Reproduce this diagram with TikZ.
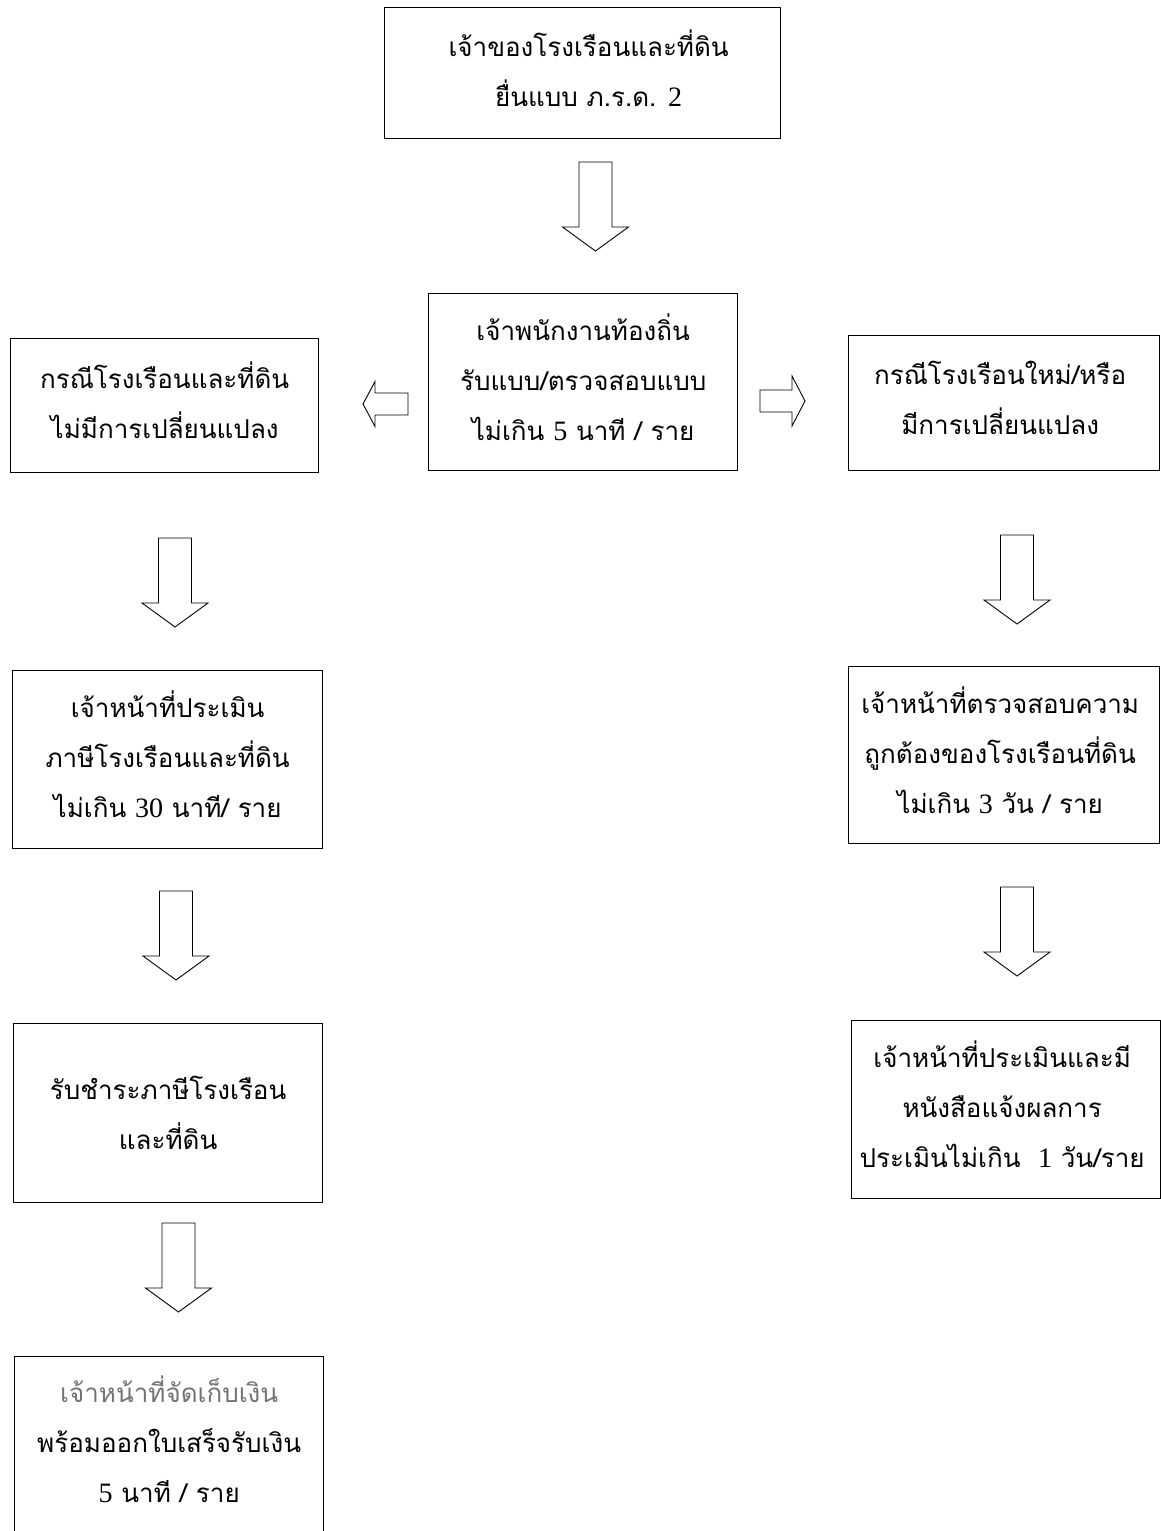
\documentclass[tikz,border=0pt]{standalone}
\usepackage{fontspec}
\setmainfont[Script=Thai]{Loma}
\newfontfamily\lat{Liberation Serif}[Scale=1.08]
\begin{document}
\begin{tikzpicture}[x=1pt,y=-1pt,
  box/.style={draw, line width=1.3pt, anchor=north west, inner sep=0pt},
  txt/.style={inner sep=0pt, align=center, font=\fontsize{26}{50}\selectfont, yshift=5pt},
  arr/.style={draw, line width=0.9pt, line join=miter},
  darr/.pic={\draw[arr] (-16.5,0) -- (16.5,0) -- (16.5,65) -- (33,65) -- (0,89) -- (-33,65) -- (-16.5,65) -- cycle;},
  rarr/.pic={\draw[arr] (0,-11) -- (32,-11) -- (32,-25) -- (45,0) -- (32,25) -- (32,11) -- (0,11) -- cycle;},
  larr/.pic={\draw[arr] (0,-11) -- (-33,-11) -- (-33,-22.5) -- (-45,0) -- (-33,22.5) -- (-33,11) -- (0,11) -- cycle;}
]
\useasboundingbox (0,0) rectangle (1161,1531);

% boxes
\node[box, minimum width=396, minimum height=131] (own) at (384,7) {};
\node[txt] (ownt) at ([xshift=6pt]own.center)
  {เจ้าของโรงเรือนและที่ดิน\\ยื่นแบบ ภ.ร.ด. {\lat 2}};

\node[box, minimum width=309, minimum height=177] (off) at (428,293) {};
\node[txt] (offt) at (off.center)
  {เจ้าพนักงานท้องถิ่น\\รับแบบ/ตรวจสอบแบบ\\ไม่เกิน {\lat 5} นาที / ราย};

\node[box, minimum width=308, minimum height=134] (l1) at (10,338) {};
\node[txt] (l1t) at (l1.center)
  {กรณีโรงเรือนและที่ดิน\\ไม่มีการเปลี่ยนแปลง};

\node[box, minimum width=311, minimum height=135] (r1) at (848,335) {};
\node[txt] (r1t) at ([xshift=-4pt]r1.center)
  {กรณีโรงเรือนใหม่/หรือ\\มีการเปลี่ยนแปลง};

\node[box, minimum width=310, minimum height=178] (l2) at (12,670) {};
\node[txt] (l2t) at (l2.center)
  {เจ้าหน้าที่ประเมิน\\ภาษีโรงเรือนและที่ดิน\\ไม่เกิน {\lat 30} นาที/ ราย};

\node[box, minimum width=311, minimum height=177] (r2) at (848,666) {};
\node[txt] (r2t) at ([xshift=-4pt]r2.center)
  {เจ้าหน้าที่ตรวจสอบความ\\ถูกต้องของโรงเรือนที่ดิน\\ไม่เกิน {\lat 3} วัน / ราย};

\node[box, minimum width=309, minimum height=179] (l3) at (13,1023) {};
\node[txt, yshift=-5pt] (l3t) at (l3.center)
  {รับชำระภาษีโรงเรือน\\และที่ดิน};

\node[box, minimum width=309, minimum height=178] (r3) at (851,1020) {};
\node[txt] (r3t) at ([xshift=-4pt]r3.center)
  {เจ้าหน้าที่ประเมินและมี\\หนังสือแจ้งผลการ\\ประเมินไม่เกิน~ {\lat 1} วัน/ราย};

\node[box, minimum width=309, minimum height=200] (l4) at (14,1356) {};
\node[txt] (l4t) at ([yshift=12.5pt]l4.center)
  {{\color{black!55}เจ้าหน้าที่จัดเก็บเงิน}\\พร้อมออกใบเสร็จรับเงิน\\{\lat 5} นาที / ราย};

% block arrows
\pic (a0) at (595.5,162) {darr};
\pic (al) at (408,404) {larr};
\pic (ar) at (760,401) {rarr};
\pic (a1) at (175,538) {darr};
\pic (b1) at (1017,535) {darr};
\pic (a2) at (176,891) {darr};
\pic (b2) at (1017,887) {darr};
\pic (a3) at (178.5,1223) {darr};
\end{tikzpicture}
\end{document}
